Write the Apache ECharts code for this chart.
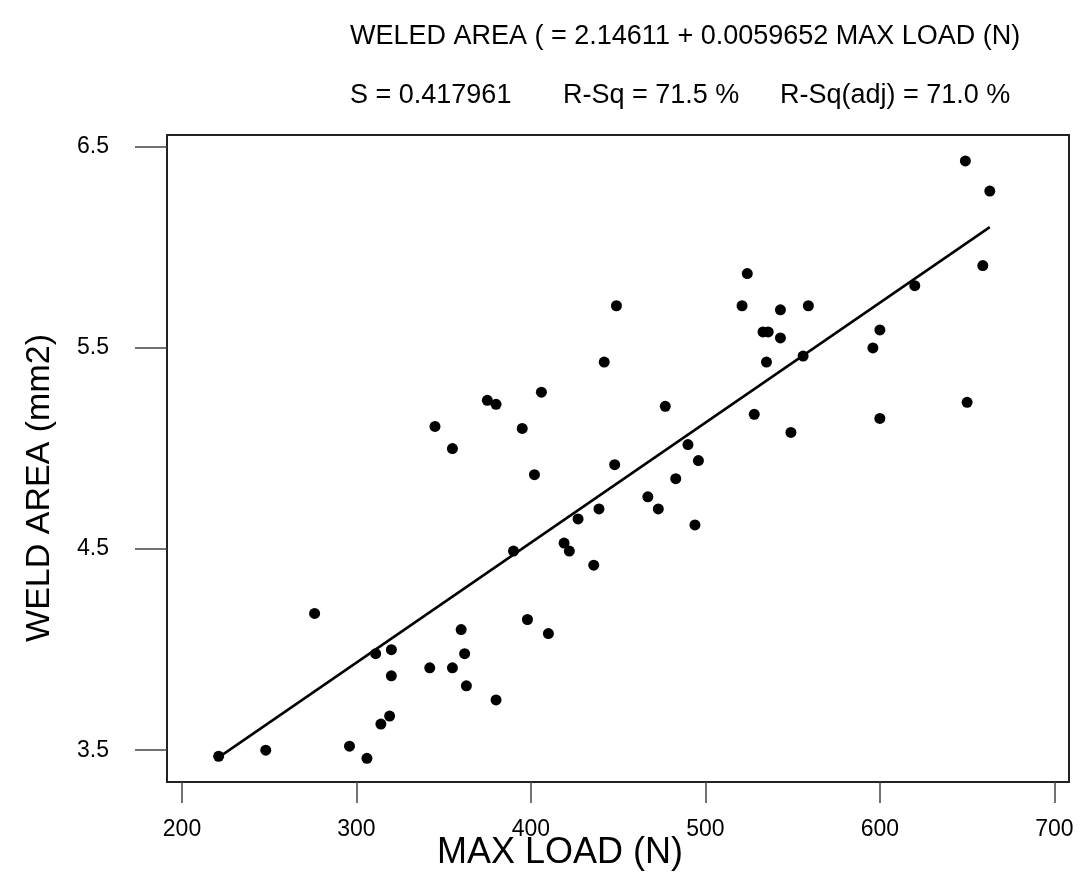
<!DOCTYPE html>
<html>
<head>
<meta charset="utf-8">
<script src="https://cdn.jsdelivr.net/npm/echarts@6/dist/echarts.min.js"></script>
<style>
html,body{margin:0;padding:0;background:#fff;}
#chart{width:1083px;height:877px;}
</style>
</head>
<body>
<div id="chart"></div>
<script>
// Data
const maxLoad = [221, 248, 276, 296, 306, 311, 320, 320, 319, 314,
                 342, 345, 355, 355, 360, 362, 363, 375, 380, 380,
                 390, 395, 398, 402, 406, 410, 419, 422, 427, 436,
                 439, 442, 448, 449, 467, 473, 477, 483, 490, 494,
                 496, 521, 524, 528, 533, 536, 535, 543, 543, 549,
                 556, 559, 596, 600, 600, 620, 649, 650, 659, 663];
const weldArea = [3.47, 3.50, 4.18, 3.52, 3.46, 3.98, 4.00, 3.87, 3.67, 3.63,
                  3.91, 5.11, 5.00, 3.91, 4.10, 3.98, 3.82, 5.24, 5.22, 3.75,
                  4.49, 5.10, 4.15, 4.87, 5.28, 4.08, 4.53, 4.49, 4.65, 4.42,
                  4.70, 5.43, 4.92, 5.71, 4.76, 4.70, 5.21, 4.85, 5.02, 4.62,
                  4.94, 5.71, 5.87, 5.17, 5.58, 5.58, 5.43, 5.69, 5.55, 5.08,
                  5.46, 5.71, 5.50, 5.59, 5.15, 5.81, 6.43, 5.23, 5.91, 6.28];
const xTicks = [200, 300, 400, 500, 600, 700];
const yTicks = [3.5, 4.5, 5.5, 6.5];
const intercept = 2.14611;
const slope = 0.0059652;
const titleLine1 = 'WELED AREA ( = 2.14611 + 0.0059652 MAX LOAD (N)';
const statS = 'S = 0.417961';
const statR = 'R-Sq = 71.5 %';
const statRadj = 'R-Sq(adj) = 71.0 %';
const xName = 'MAX LOAD (N)';
const yName = 'WELD AREA (mm2)';

const points = maxLoad.map((x, i) => [x, weldArea[i]]);
const xMin = Math.min(...maxLoad), xMax = Math.max(...maxLoad);
const fitLine = [[xMin, intercept + slope * xMin], [xMax, intercept + slope * xMax]];

const FONT = 'Liberation Sans, Arial, sans-serif';
const tStyle = {fontFamily: FONT, fontSize: 27, fontWeight: 'normal', color: '#000'};
const chart = echarts.init(document.getElementById('chart'), null, {renderer: 'canvas'});
chart.setOption({
  backgroundColor: '#fff',
  animation: false,
  title: [
    {text: titleLine1, left: 345, top: 18, textStyle: tStyle},
    {text: statS, left: 345, top: 77, textStyle: tStyle},
    {text: statR, left: 558, top: 77, textStyle: tStyle},
    {text: statRadj, left: 775, top: 77, textStyle: tStyle}
  ],
  graphic: [
    {type: 'text', x: 560, y: 853, style: {text: xName, font: '36px ' + FONT, fill: '#000', align: 'center', verticalAlign: 'middle'}},
    {type: 'text', x: 40, y: 488, rotation: Math.PI / 2, style: {text: yName, font: '34px ' + FONT, fill: '#000', align: 'center', verticalAlign: 'middle'}}
  ],
  grid: {left: 167, right: 14, top: 135, bottom: 95, show: true, borderColor: '#222', borderWidth: 2, backgroundColor: 'transparent'},
  xAxis: {
    type: 'value', min: 191.4, max: 708.4,
    splitLine: {show: false},
    axisLine: {show: false},
    axisTick: {show: true, length: 21, customValues: xTicks, lineStyle: {color: '#444', width: 1.5}},
    axisLabel: {customValues: xTicks, margin: 36, fontFamily: FONT, fontSize: 23, color: '#000'}
  },
  yAxis: {
    type: 'value', min: 3.342, max: 6.559,
    splitLine: {show: false},
    axisLine: {show: false},
    axisTick: {show: true, length: 32, customValues: yTicks, lineStyle: {color: '#444', width: 1.5}},
    axisLabel: {customValues: yTicks, margin: 58, fontFamily: FONT, fontSize: 23, color: '#000',
                formatter: v => v.toFixed(1)}
  },
  series: [
    {type: 'scatter', data: points, symbol: 'circle', symbolSize: 11, itemStyle: {color: '#000', opacity: 1}, z: 3},
    {type: 'line', data: fitLine, symbol: 'none', lineStyle: {color: '#000', width: 2.5}, z: 2}
  ]
});
</script>
</body>
</html>
